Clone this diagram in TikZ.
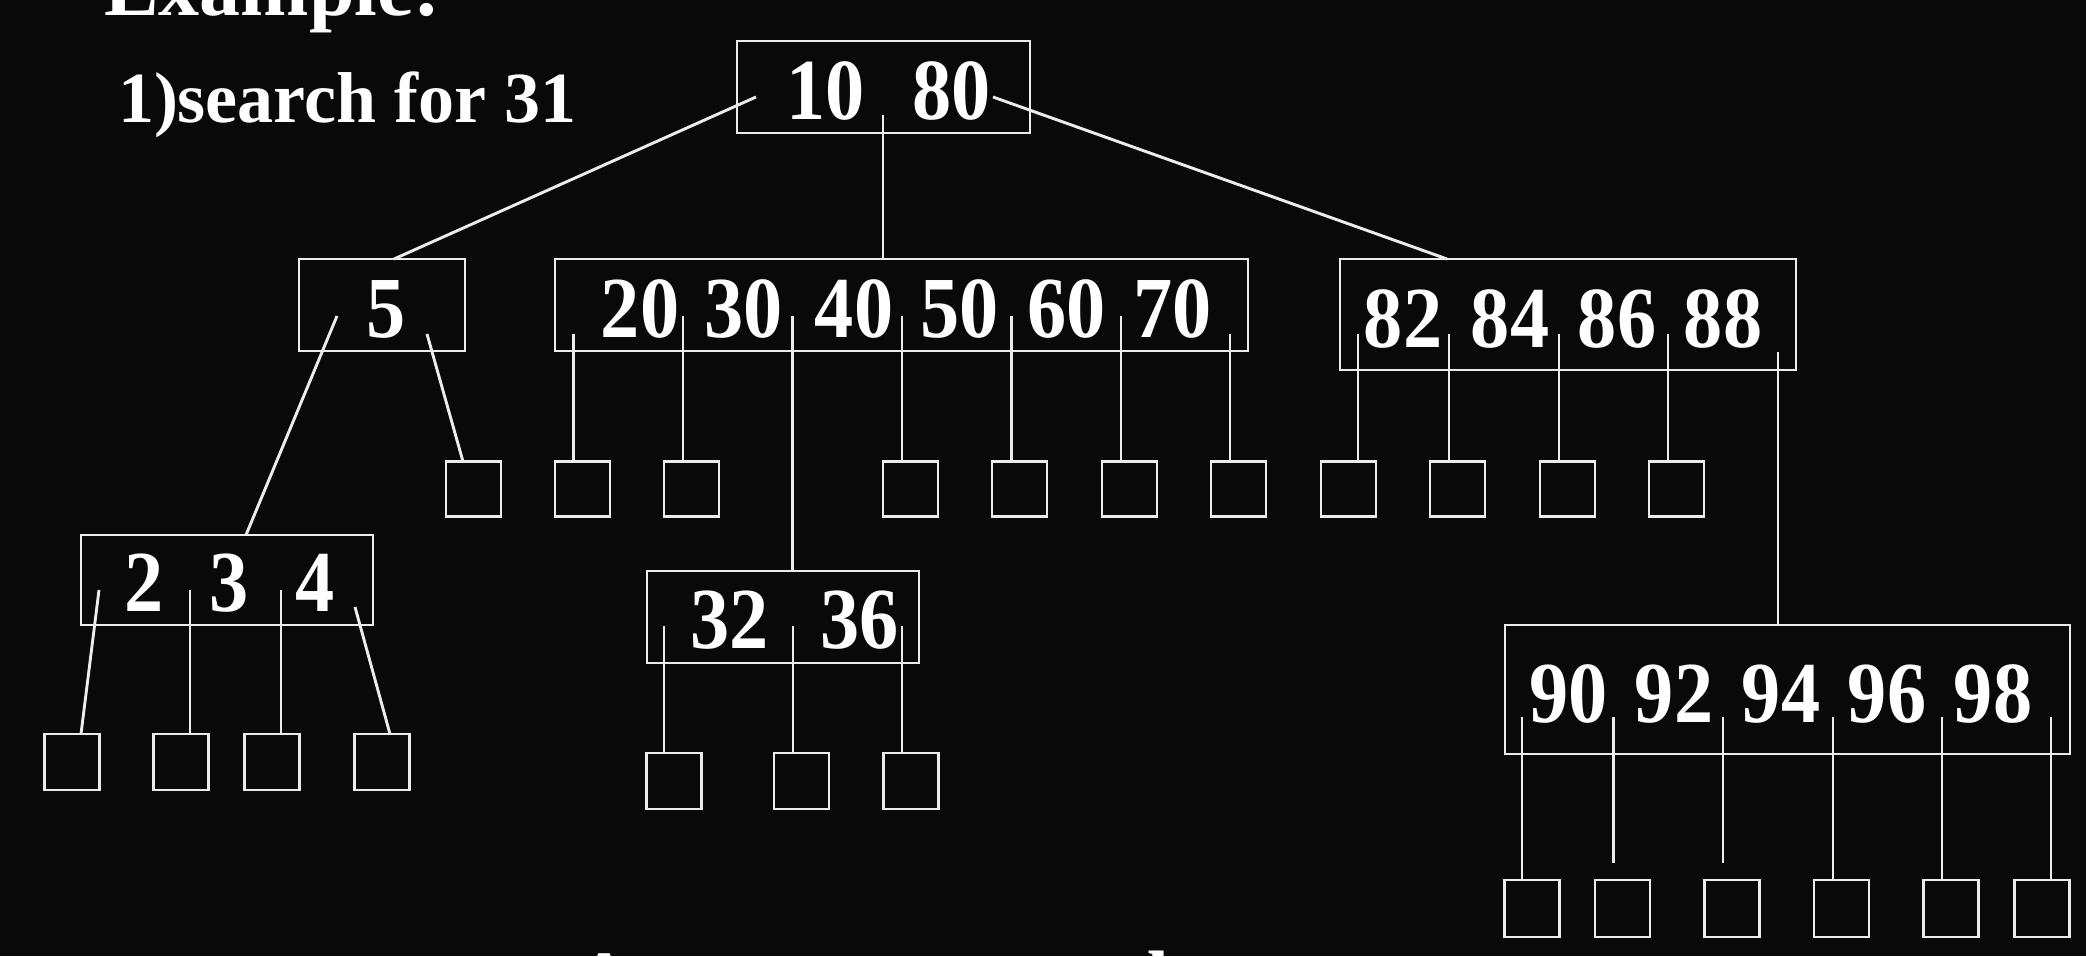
\documentclass[tikz,border=0pt]{standalone}
\usepackage{graphicx}
\usepackage{fontspec}
\setmainfont{Liberation Serif}
\definecolor{bgc}{RGB}{9,9,9}
\definecolor{fgc}{RGB}{236,236,236}
\begin{document}
\begin{tikzpicture}[x=1pt,y=-1pt,
  box/.style={draw=fgc, line width=2.9pt, inner sep=0pt, outer sep=0pt},
  leaf/.style={box, minimum width=55pt, minimum height=55pt},
  key/.style={text=white, inner sep=0pt, outer sep=0pt, anchor=base, font=\bfseries\fontsize{87}{87}\selectfont},
  conn/.style={draw=fgc, line width=2.9pt},
  label/.style={text=white, inner sep=0pt, outer sep=0pt, anchor=base west}]
\fill[bgc] (0,0) rectangle (2086,956);
\useasboundingbox (0,0) rectangle (2086,956);
\clip (0,0) rectangle (2086,956);

% texts
\node[label, font=\bfseries\fontsize{82}{82}\selectfont] (ex) at (104,15) {Example:};
\node[label, font=\bfseries\fontsize{72}{72}\selectfont] (srch) at (118,122) {1)search for 31};
\node[label, font=\bfseries\fontsize{80}{80}\selectfont] (ba) at (575,1006) {A};
\node[label, font=\bfseries\fontsize{80}{80}\selectfont] (bd) at (1124,1006) {data};

% internal nodes
\node[box, minimum width=293pt, minimum height=92pt] (root) at (883.5,87) {};
\node[box, minimum width=166pt, minimum height=92pt] (n5) at (382,305) {};
\node[box, minimum width=693pt, minimum height=92pt] (n20) at (901.5,305) {};
\node[box, minimum width=456pt, minimum height=111pt] (n82) at (1568,314.5) {};
\node[box, minimum width=292pt, minimum height=90pt] (n234) at (227,580) {};
\node[box, minimum width=272pt, minimum height=92pt] (n32) at (783,617) {};
\node[box, minimum width=565pt, minimum height=129pt] (n90) at (1787.5,689.5) {};

% keys
\newcommand{\kk}[1]{\scalebox{0.9}[1]{#1}}
\node[key] (k10) at (825.5,119) {\kk{10}};
\node[key] (k80) at (951.5,119) {\kk{80}};
\node[key] (k5) at (386.5,337) {\kk{5}};
\node[key] (k20) at (640,337) {\kk{20}};
\node[key] (k30) at (743.5,337) {\kk{30}};
\node[key] (k40) at (854,337) {\kk{40}};
\node[key] (k50) at (959.5,337) {\kk{50}};
\node[key] (k60) at (1066.5,337) {\kk{60}};
\node[key] (k70) at (1172.5,337) {\kk{70}};
\node[key] (k82) at (1403,347) {\kk{82}};
\node[key] (k84) at (1510,347) {\kk{84}};
\node[key] (k86) at (1617,347) {\kk{86}};
\node[key] (k88) at (1723,347) {\kk{88}};
\node[key] (k2) at (144,611) {\kk{2}};
\node[key] (k3) at (229.5,611) {\kk{3}};
\node[key] (k4) at (315,611) {\kk{4}};
\node[key] (k32) at (729.5,648) {\kk{32}};
\node[key] (k36) at (859.5,648) {\kk{36}};
\node[key] (k90) at (1568.5,722) {\kk{90}};
\node[key] (k92) at (1674,722) {\kk{92}};
\node[key] (k94) at (1781,722) {\kk{94}};
\node[key] (k96) at (1887,722) {\kk{96}};
\node[key] (k98) at (1993,722) {\kk{98}};

% leaves row 1
\foreach \i/\x in {1/473.5,2/582.5,3/691.5,4/910.5,5/1019.5,6/1129.5,7/1238.5,8/1348.5,9/1457.5,10/1567.5,11/1676.5}
  \node[leaf] (a\i) at (\x,489) {};
% leaves under 2 3 4
\foreach \i/\x in {1/72,2/181,3/272,4/382}
  \node[leaf, minimum height=56pt] (b\i) at (\x,762) {};
% leaves under 32 36
\foreach \i/\x in {1/674,2/801.5,3/911}
  \node[leaf, minimum height=56pt] (c\i) at (\x,781) {};
% leaves under 90..98
\foreach \i/\x in {1/1532,2/1622.5,3/1732,4/1841.5,5/1951,6/2042}
  \node[leaf, minimum height=57pt] (d\i) at (\x,908.5) {};

% connector start points
\coordinate (rL) at (756,97);
\coordinate (rM) at (883,115);
\coordinate (rR) at (993,97);
\coordinate (fL) at (337,316);
\coordinate (fR) at (427,334);
\coordinate (s1) at (573.5,334);
\coordinate (s2) at (683,316);
\coordinate (s3) at (792.5,316);
\coordinate (s4) at (902,316);
\coordinate (s5) at (1011.5,316);
\coordinate (s6) at (1121,316);
\coordinate (s7) at (1230,334);
\coordinate (t1) at (1358,334);
\coordinate (t2) at (1449,334);
\coordinate (t3) at (1559,334);
\coordinate (t4) at (1668,334);
\coordinate (t5) at (1778,352);
\coordinate (u1) at (99,590);
\coordinate (u2) at (190,590);
\coordinate (u3) at (281,590);
\coordinate (u4) at (355,607);
\coordinate (v1) at (664,626);
\coordinate (v2) at (793,626);
\coordinate (v3) at (902,626);
\coordinate (w1) at (1522,717);
\coordinate (w2) at (1613.5,717);
\coordinate (w3) at (1723,717);
\coordinate (w4) at (1833,717);
\coordinate (w5) at (1942,717);
\coordinate (w6) at (2051,717);
\coordinate (e2) at (1613.5,863);
\coordinate (e3) at (1723,863);

% connectors
\draw[conn] (rL) -- ([xshift=12pt]n5.north);
\draw[conn] (rM) -- (rM |- n20.north);
\draw[conn] (rR) -- ([xshift=-121pt]n82.north);
\draw[conn] (fL) -- ([xshift=19pt]n234.north);
\draw[conn] (fR) -- ([xshift=-10.5pt]a1.north);
\draw[conn] (s1) -- (s1 |- a2.north);
\draw[conn] (s2) -- (s2 |- a3.north);
\draw[conn] (s3) -- (s3 |- n32.north);
\draw[conn] (s4) -- (s4 |- a4.north);
\draw[conn] (s5) -- (s5 |- a5.north);
\draw[conn] (s6) -- (s6 |- a6.north);
\draw[conn] (s7) -- (s7 |- a7.north);
\draw[conn] (t1) -- (t1 |- a8.north);
\draw[conn] (t2) -- (t2 |- a9.north);
\draw[conn] (t3) -- (t3 |- a10.north);
\draw[conn] (t4) -- (t4 |- a11.north);
\draw[conn] (t5) -- (t5 |- n90.north);
\draw[conn] (u1) -- ([xshift=9pt]b1.north);
\draw[conn] (u2) -- (u2 |- b2.north);
\draw[conn] (u3) -- (u3 |- b3.north);
\draw[conn] (u4) -- ([xshift=8pt]b4.north);
\draw[conn] (v1) -- (v1 |- c1.north);
\draw[conn] (v2) -- (v2 |- c2.north);
\draw[conn] (v3) -- (v3 |- c3.north);
\draw[conn] (w1) -- (w1 |- d1.north);
\draw[conn] (w2) -- (e2);
\draw[conn] (w3) -- (e3);
\draw[conn] (w4) -- (w4 |- d4.north);
\draw[conn] (w5) -- (w5 |- d5.north);
\draw[conn] (w6) -- (w6 |- d6.north);
\end{tikzpicture}
\end{document}
